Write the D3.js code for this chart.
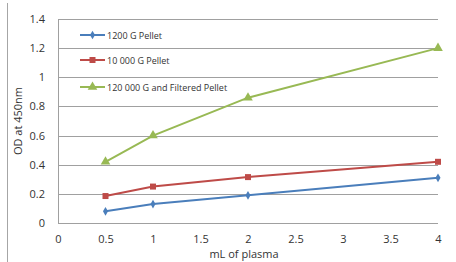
<!DOCTYPE html>
<html><head><meta charset="utf-8">
<script src="https://cdn.jsdelivr.net/npm/d3@7"></script>
<style>body{margin:0;background:#fff}svg{display:block}text{font-family:"Open Sans",sans-serif;fill:#333}</style>
</head><body><svg id="c" width="456" height="262"></svg>
<script>
const xValues = [0.5, 1, 2, 4];
const seriesNames = ["1200 G Pellet", "10 000 G Pellet", "120 000 G and Filtered Pellet"];
const s1200 = [0.08, 0.13, 0.19, 0.31];
const s10000 = [0.185, 0.25, 0.315, 0.42];
const s120000 = [0.42, 0.60, 0.86, 1.20];
const xTicks = [0, 0.5, 1, 1.5, 2, 2.5, 3, 3.5, 4];
const yTicks = [0, 0.2, 0.4, 0.6, 0.8, 1, 1.2, 1.4];
const colors = ["#4A7EBB", "#BE4B48", "#98B954"];
const symbols = [d3.symbolDiamond, d3.symbolSquare, d3.symbolTriangle];
const symSizes = [22, 36, 40];
const allSeries = [s1200, s10000, s120000];

const svg = d3.select("#c");
const x = d3.scaleLinear().domain([0, 4]).range([58, 438]);
const y = d3.scaleLinear().domain([0, 1.4]).range([223, 19]);

// frame left border
svg.append("line").attr("x1", 7.5).attr("x2", 7.5).attr("y1", 3).attr("y2", 262).attr("stroke", "#a6a6a6").attr("stroke-width", 1);

// gridlines
svg.append("g").selectAll("line").data(yTicks).join("line")
  .attr("x1", 58).attr("x2", 438)
  .attr("y1", d => Math.round(y(d)) + 0.5).attr("y2", d => Math.round(y(d)) + 0.5)
  .attr("stroke", "#a0a0a0").attr("stroke-width", 1);

// left axis line
svg.append("line").attr("x1", 58.5).attr("x2", 58.5).attr("y1", y(1.4)).attr("y2", y(0) + 0.5).attr("stroke", "#a0a0a0");

// y axis labels
const yAxis = d3.axisLeft(y).tickValues(yTicks).tickSize(0).tickPadding(13).tickFormat(d => String(+d.toFixed(1)));
const ya = svg.append("g").attr("transform", "translate(58,0)").call(yAxis);
ya.select(".domain").remove();
ya.selectAll("text").style("font-size", "11px").style("fill", "#333").attr("font-family", null);

const xAxis = d3.axisBottom(x).tickValues(xTicks).tickSize(0).tickPadding(12).tickFormat(d => String(d));
const xa = svg.append("g").attr("transform", "translate(0,223)").call(xAxis);
xa.select(".domain").remove();
xa.selectAll("text").style("font-size", "11px").style("fill", "#333").attr("font-family", null);

// axis titles
svg.append("text").attr("transform", "translate(22,121) rotate(-90)").attr("text-anchor", "middle")
  .style("font-size", "11px").text("OD at 450nm");
svg.append("text").attr("x", 244).attr("y", 258).attr("text-anchor", "middle")
  .style("font-size", "11px").text("mL of plasma");

// series
const line = d3.line().x((d, i) => x(xValues[i])).y(d => y(d));
allSeries.forEach((vals, k) => {
  svg.append("path").datum(vals).attr("d", line).attr("fill", "none")
    .attr("stroke", colors[k]).attr("stroke-width", 2);
  svg.append("g").selectAll("path").data(vals).join("path")
    .attr("transform", (d, i) => `translate(${x(xValues[i])},${y(d)})`)
    .attr("d", d3.symbol().type(symbols[k]).size(symSizes[k]))
    .attr("fill", colors[k]);
});

// legend
const legY = [35, 60, 87];
seriesNames.forEach((name, k) => {
  const g = svg.append("g").attr("transform", `translate(0,${legY[k]})`);
  g.append("line").attr("x1", 80).attr("x2", 105).attr("y1", 0).attr("y2", 0).attr("stroke", colors[k]).attr("stroke-width", 2);
  g.append("path").attr("transform", "translate(92.5,0)")
    .attr("d", d3.symbol().type(symbols[k]).size(symSizes[k])).attr("fill", colors[k]);
  g.append("text").attr("x", 107).attr("y", 3.5).style("font-size", "9px").text(name);
});
</script></body></html>
